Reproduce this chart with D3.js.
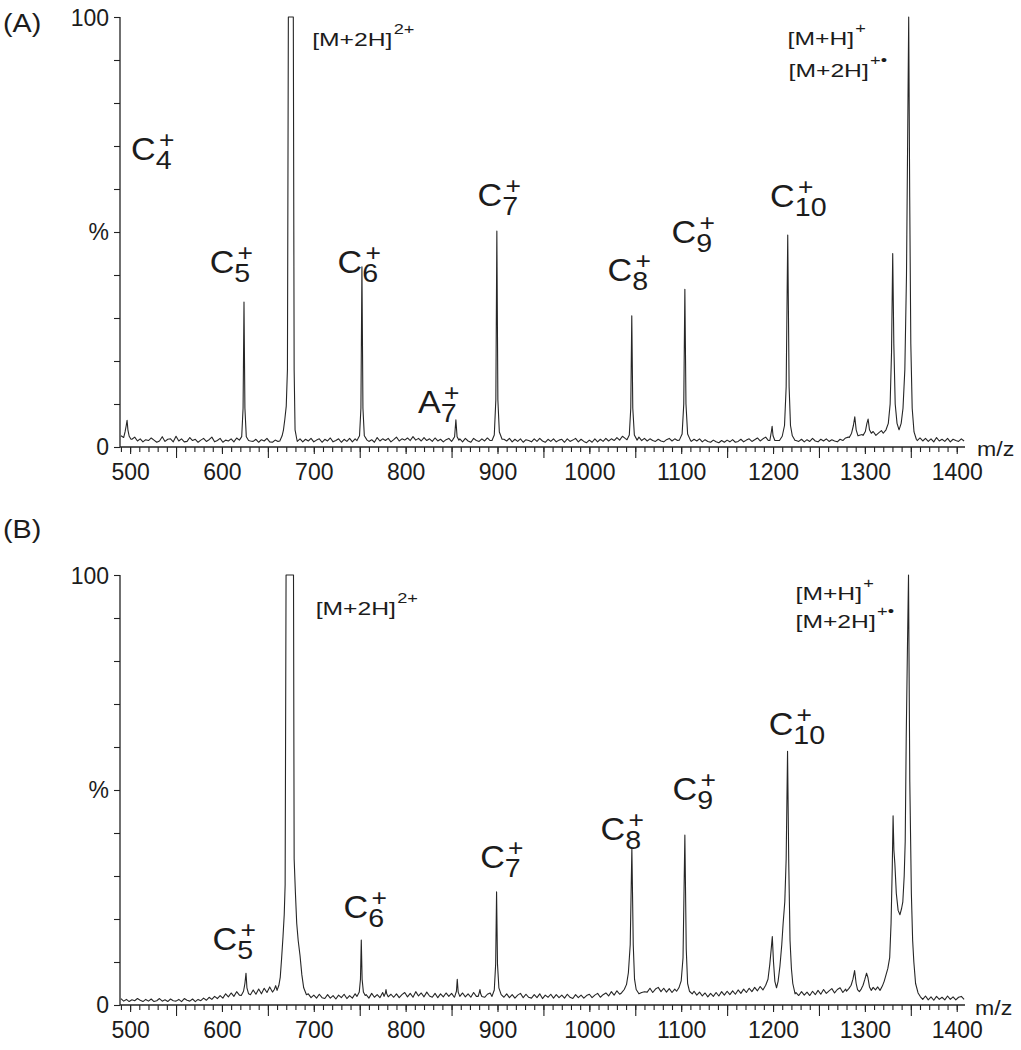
<!DOCTYPE html>
<html><head><meta charset="utf-8">
<script src="https://cdn.jsdelivr.net/npm/d3@7"></script>
<style>
body{margin:0;background:#fff}
text{font-family:"Liberation Sans",Arial,Helvetica,sans-serif;fill:#1c1c1c}
</style>
</head><body>
<svg id="c" width="1021" height="1050"></svg>
<script>
// ---------------- DATA ----------------
const mzStart = 490, mzStep = 3;              // baseline noise sampled every 3 m/z from 490
const xMajorTicks = [500,600,700,800,900,1000,1100,1200,1300,1400];
const xMidTicks = [550,650,750,850,950,1050,1150,1250,1350];
const yTickValues = [0,10,20,30,40,50,60,70,80,90,100];
const yTickLabels = [{v:100,t:"100"},{v:50,t:"%"},{v:0,t:"0"}];
const panelNames = ["(A)","(B)"];
const axisTitle = "m/z";

const noiseA = [
2.6,3.4,2.5,2.7,1.8,2.3,1.4,1.9,1.2,1.7,
1.5,2.1,1.6,1.1,1.4,2.4,1.3,1.8,1.9,1.2,
2.5,1.4,1.9,1.2,1.3,2.2,1.5,1.8,1.1,1.6,
2.0,1.3,1.7,2.3,1.2,1.5,2.0,1.1,1.6,1.4,
1.9,1.2,2.1,1.5,1.7,1.1,1.9,1.4,1.3,1.8,
1.1,1.7,1.4,2.0,1.2,1.1,1.6,1.3,2.0,2.2,
1.5,1.5,1.5,1.5,1.3,1.9,1.2,1.8,1.4,2.0,
1.2,1.6,1.9,1.1,1.8,1.4,2.1,1.2,1.5,1.9,
1.1,1.8,1.3,2.0,1.2,1.9,1.5,1.5,1.5,1.9,
1.3,1.7,1.1,2.2,1.4,1.9,1.5,2.0,1.2,1.7,
2.3,1.4,1.9,1.6,2.1,1.5,2.4,1.6,2.0,1.4,
2.2,1.5,1.9,1.3,2.1,1.4,1.8,1.2,1.7,2.0,
1.3,1.5,1.5,1.9,1.2,2.0,1.4,1.1,2.0,1.5,
1.3,1.9,1.4,2.1,1.5,1.5,1.8,2.3,1.3,1.8,
1.4,2.0,1.2,1.8,1.3,1.9,1.1,1.7,1.5,1.2,
1.9,1.3,2.0,1.4,1.1,1.8,1.3,1.9,1.2,1.6,
1.8,1.1,1.9,1.3,1.6,2.0,1.2,1.8,1.3,1.0,
1.6,1.1,1.9,1.2,1.8,1.3,2.0,1.4,1.9,1.5,
2.2,1.6,2.5,2.0,1.5,1.5,1.5,1.9,2.3,1.5,
2.0,1.4,1.9,1.5,1.3,1.8,1.4,1.2,1.7,2.0,
1.4,1.9,1.5,1.5,1.5,1.8,2.1,1.3,1.8,1.4,
1.9,1.2,1.7,1.3,1.1,1.6,1.2,1.0,1.5,1.1,
1.6,1.2,1.7,1.1,1.3,1.8,1.2,1.6,1.9,1.3,
1.7,2.1,1.4,1.9,2.3,1.5,2.5,1.5,1.5,1.6,
1.5,1.5,1.5,1.5,1.5,1.5,1.3,1.8,1.2,1.7,
1.3,2.0,1.4,1.2,1.8,1.4,1.9,1.3,1.7,1.4,
1.2,1.8,1.5,2.1,2.3,2.8,2.2,3.0,2.4,2.9,
3.1,3.4,2.5,3.6,2.7,3.3,3.8,2.8,3.5,3.0,
3,3,3,3,3,3,3,3,2.6,1.5,
2.1,1.4,2.0,1.3,1.9,1.2,2.2,1.4,1.8,1.3,
2.0,1.2,1.8,1.5,1.3,1.9,1.4];

const noiseB = [
1.5,0.9,1.3,0.8,1.2,1.0,1.5,1.1,0.8,1.3,
0.9,1.4,0.8,1.0,1.5,0.9,1.2,0.8,1.4,1.0,
0.9,1.3,0.8,1.5,1.1,0.9,1.4,0.8,1.3,1.0,
1.6,1.1,1.8,1.3,2.0,1.5,2.2,1.6,2.6,1.9,
2.8,2.0,3.1,2.3,2.5,1.9,3.0,2.4,3.5,2.5,
3.7,2.6,3.9,2.9,4.2,2.8,3.8,2.6,3.5,2.8,
3,3,3,3,3,3,2.5,1.8,2.6,1.7,
2.3,1.6,2.5,1.7,1.5,2.4,1.6,2.2,1.4,2.3,
1.7,2.5,1.5,2.2,1.6,2.6,2,2,2,2.4,
1.6,2.7,1.8,2.4,1.7,2.9,1.9,1.7,2.5,1.8,
2.6,1.7,2.4,2.9,1.9,2.7,1.8,3.1,2.1,2.8,
1.9,3.0,2.1,1.8,2.7,1.7,2.6,1.9,2.8,2.0,
2.7,1.8,2.5,1.7,2.8,1.9,2.6,1.8,2.9,2.0,
1.9,2.7,1.8,2.5,2.8,2.0,1.9,3.0,2.1,1.8,
2.6,1.7,2.4,1.6,2.3,2.7,1.7,2.5,1.8,1.6,
2.4,1.7,2.6,1.5,2.3,1.8,2.5,1.6,2.4,1.7,
2.3,1.6,2.5,1.8,1.5,2.4,1.7,2.3,1.6,2.2,
2.5,1.7,2.3,2.7,1.8,2.4,2.8,2.1,3.1,2.3,
3.3,2.5,3.5,2.7,3,3,3,3.4,3.7,2.9,
3.1,3.0,3.9,2.9,3.7,4.1,3.1,3.9,3.0,3.8,
2.9,3.7,3,3,3,3,3.5,2.5,3.2,2.3,
3.0,2.1,2.8,1.9,2.7,2.0,2.9,2.1,3.1,2.3,
3.2,2.4,3.3,2.5,3.5,2.7,3.7,2.9,3.9,3.1,
4.1,3.3,4.3,3,3,3,3,3,3,3,
3,3,3,3,3,2.9,2.2,3.1,2.3,3.0,
2.2,3.2,2.4,3.4,2.5,3.6,2.7,3.3,3.8,2.8,
3.6,4.0,2.9,3.7,4.1,3.1,3.9,3.0,3.8,4.1,
4.4,3.4,4.2,3.3,4.1,3.4,4.3,4.6,5.0,5.5,
3,3,3,3,3,3,3,3,3,2.3,
2.0,1.3,2.1,1.2,1.9,1.1,2.0,1.3,1.8,1.2,
2.1,1.3,1.9,1.2,1.8,2.0,1.3];

// peak profiles [m/z, intensity %]
const peaksA = [
 [[493,2.2],[494.5,3.5],[495.8,5],[496.7,6.2],[497.6,4],[499,2.5],[501,1.8]],
 [[619,1.6],[621.5,2.4],[623,9],[624,33.7],[625,9],[626.5,2.4],[629,1.5]],
 [[663,1.4],[665.5,2.6],[667,4],[668.5,6.5],[670,9.5],[671.3,18],[672.3,100],[677.7,100],[678.6,18],[679.6,4],[681.5,1.8]],
 [[747,1.5],[749.8,2.6],[751.3,9],[752.4,41.9],[753.5,9],[755,2.6],[758,1.6]],
 [[851,1.6],[853.3,2.4],[854.7,6.3],[856,2.4],[858,1.6]],
 [[894,1.5],[896.5,2.8],[898.2,11],[899.3,50.2],[900.4,11],[902,3.5],[905,1.8]],
 [[1041,1.7],[1043.5,2.8],[1045.1,9],[1046.2,30.5],[1047.3,9],[1049,2.8],[1052,1.6]],
 [[1098,1.6],[1101,3],[1102.8,10],[1104,36.7],[1105.2,10],[1107,3],[1110,1.6]],
 [[1196.5,1.5],[1198.2,3.6],[1199,4.8],[1200,2.6],[1202,1.5]],
 [[1207,1.5],[1210,2.5],[1212.5,5],[1214.3,14],[1216,49.3],[1217.5,14],[1219,5],[1221,2.6],[1224,1.5]],
 [[1283,2.2],[1285.5,3.2],[1287.5,5],[1289,7],[1290.5,4],[1292.5,2.6],[1295,2.8]],
 [[1298,2.7],[1300.5,3.6],[1302.2,5.5],[1303.5,6.5],[1305,4],[1307,3.2]],
 [[1320,3.2],[1323,4],[1325.5,5.5],[1327.5,10],[1329,22],[1330.3,45],[1331.5,24],[1333,10],[1335,5.5],[1337.2,4],[1339.5,5.5],[1341.5,9],[1343.5,18],[1345.3,40],[1346.7,75],[1347.7,100],[1348.8,58],[1350,24],[1351.5,9],[1353.5,3.5],[1356,1.8]]
];

const peaksB = [
 [[621,2.2],[623.5,3.2],[625,5],[626.2,7.4],[627.2,4],[629,2.6]],
 [[655,3],[657,3.6],[658.5,4.5],[660,3.4],[662,4.6],[663.5,6.5],[665,11],[666.5,16],[667.8,21],[668.8,28],[669.8,100],[677.9,100],[678.6,34],[680,26],[681.4,19],[683,15],[685,11.5],[687,7],[689,4],[692,2.4]],
 [[747,2],[749.5,3],[750.8,6],[751.7,15.1],[752.6,6],[754,3],[756,2.2]],
 [[776.5,2],[778,2.8],[778.6,3.6],[779.4,2.6],[781,1.9]],
 [[853.5,2],[855.3,3.2],[856.2,6],[857.2,3],[859,2]],
 [[879,2],[880.3,3],[880.9,3.6],[881.7,2.6],[883,2]],
 [[894,2],[896.5,3.5],[898,9.5],[899,26.3],[900,9.5],[901.5,4],[904,2.4]],
 [[1035,2.8],[1038,3.6],[1040.5,4.8],[1042.5,7.5],[1044.5,14],[1046.3,36.5],[1047.8,14],[1049.2,6],[1051,3.6],[1054,2.6]],
 [[1095,3.2],[1097.5,4],[1100,5.6],[1102,11],[1104,39.5],[1105.5,13],[1107,5],[1109,3.2],[1112,2.6]],
 [[1189,3.5],[1192,4.6],[1194.5,6],[1196.5,9.5],[1198,13],[1199.2,15.9],[1200.5,10],[1202,5.5],[1203.8,4],[1205.5,5.5],[1207.5,9],[1209.5,14],[1211,19],[1212.8,24],[1214.3,34],[1215.8,59],[1217.1,33],[1218.5,15],[1220,8.5],[1221.5,5],[1224,2.6]],
 [[1280,3.2],[1282.5,3.8],[1285,4.6],[1287,6],[1288.8,8],[1290.5,5],[1292,3.6],[1294,3.1],[1296,3.7],[1298,4.6],[1300,6],[1301.8,7.4],[1303.3,6.4],[1305,4.2],[1307,3.4],[1309,4.1],[1311.5,3.5],[1314,4.2],[1316.5,3.4],[1319,4.4],[1321,5.5],[1323,7],[1325,8.5],[1327,11],[1328.5,19],[1329.8,32],[1330.7,44],[1331.6,36],[1332.6,33],[1334.2,26],[1336.2,22],[1338.2,21],[1340,22.5],[1341.3,24],[1342.8,30],[1343.9,38],[1345,62],[1346.4,84],[1347.5,100],[1348.2,76],[1348.9,52],[1350.6,26],[1352,15],[1353.3,10],[1355.2,5],[1357.9,2.8],[1360.5,1.9]]
];

// annotations anchored in data coordinates (m/z, %)
const annotA = [
 {main:"C", sub:"4", sup:"+", mz:501.1, pct:66.7},
 {main:"C", sub:"5", sup:"+", mz:586.6, pct:40.5},
 {main:"[M+2H]", sup:"2+", mz:698.2, pct:93.3},
 {main:"C", sub:"6", sup:"+", mz:725.9, pct:40.5},
 {main:"A", sub:"7", sup:"+", mz:813.5, pct:7.9},
 {main:"C", sub:"7", sup:"+", mz:878.3, pct:56.0},
 {main:"C", sub:"8", sup:"+", mz:1019.9, pct:38.6},
 {main:"C", sub:"9", sup:"+", mz:1089.5, pct:47.4},
 {main:"C", sub:"10", sup:"+", mz:1196.8, pct:55.7},
 {main:"[M+H]", sup:"+", mz:1215.8, pct:93.4},
 {main:"[M+2H]", sup:"+•", mz:1216.9, pct:86.0}
];
const annotB = [
 {main:"C", sub:"5", sup:"+", mz:589.8, pct:12.9},
 {main:"[M+2H]", sup:"2+", mz:702.0, pct:90.8},
 {main:"C", sub:"6", sup:"+", mz:732.4, pct:20.2},
 {main:"C", sub:"7", sup:"+", mz:881.1, pct:31.9},
 {main:"C", sub:"8", sup:"+", mz:1012.2, pct:38.4},
 {main:"C", sub:"9", sup:"+", mz:1090.6, pct:47.7},
 {main:"C", sub:"10", sup:"+", mz:1195.2, pct:62.9},
 {main:"[M+H]", sup:"+", mz:1224.5, pct:94.2},
 {main:"[M+2H]", sup:"+•", mz:1224.5, pct:87.7}
];

// ---------------- LAYOUT ----------------
const svg = d3.select("#c");
const x = d3.scaleLinear().domain([489, 1409]).range([120, 965]);
const panels = [
 {name:panelNames[0], noise:noiseA, peaks:peaksA, annot:annotA, top:17, base:447, nameY:32, mzX:977, mzY:456},
 {name:panelNames[1], noise:noiseB, peaks:peaksB, annot:annotB, top:575, base:1005, nameY:537.5, mzX:975, mzY:1015}
];
const minorTicks = d3.range(490, 1401, 10);
const ink = "#222";

function buildSpectrum(noise, peaks){
  const pts = [];
  noise.forEach((v,i)=>{
    const m = mzStart + i*mzStep;
    if (!peaks.some(p => m >= p[0][0] && m <= p[p.length-1][0])) pts.push([m, v]);
  });
  peaks.forEach(p => p.forEach(q => pts.push(q)));
  pts.sort((a,b)=>a[0]-b[0]);
  return pts;
}

panels.forEach(p=>{
  const y = d3.scaleLinear().domain([0,100]).range([p.base, p.top]);
  const g = svg.append("g").style("color", ink);

  // y axis
  g.append("g").attr("transform","translate(120,0)")
    .call(d3.axisLeft(y).tickValues(yTickValues).tickSize(6).tickFormat(""))
    .call(a=>a.select(".domain").remove())
    .selectAll("line").attr("stroke-width",1.1);
  g.append("line").attr("x1",120).attr("x2",120).attr("y1",y(100)).attr("y2",y(0))
    .attr("stroke",ink).attr("stroke-width",1.3);
  yTickLabels.forEach(t=>{
    g.append("text").attr("x",109).attr("y",y(t.v)+ (t.v===100?9:8))
      .attr("text-anchor","end").attr("font-size",23).text(t.t);
  });

  // x axis
  const xa = (vals,size)=> g.append("g").attr("transform",`translate(0,${p.base})`)
      .call(d3.axisBottom(x).tickValues(vals).tickSize(size).tickFormat(""))
      .call(a=>a.select(".domain").remove())
      .call(a=>a.selectAll("line").attr("stroke-width",1.1));
  xa(minorTicks,5);
  xa(xMidTicks,11);
  const maj = g.append("g").attr("transform",`translate(0,${p.base})`)
      .call(d3.axisBottom(x).tickValues(xMajorTicks).tickSize(7).tickFormat(d3.format("d")))
      .call(a=>a.select(".domain").remove());
  maj.selectAll("line").attr("stroke-width",1.1);
  maj.selectAll("text").attr("y",33).attr("dy",null).attr("font-size",23)
     .style("font-family",'"Liberation Sans",Arial,sans-serif').attr("fill","#1c1c1c");
  g.append("line").attr("x1",120).attr("x2",965).attr("y1",p.base).attr("y2",p.base)
    .attr("stroke",ink).attr("stroke-width",1.3);

  g.append("text").attr("transform",`translate(${p.mzX},${p.mzY}) scale(1.1,1)`)
    .attr("font-size",21).text(axisTitle);
  g.append("text").attr("transform",`translate(3,${p.nameY}) scale(1.15,1)`)
    .attr("font-size",25).text(p.name);

  // spectrum
  const pts = buildSpectrum(p.noise, p.peaks);
  g.append("path").datum(pts)
    .attr("d", d3.line().x(d=>x(d[0])).y(d=>y(d[1])))
    .attr("fill","none").attr("stroke","#262626").attr("stroke-width",1.1)
    .attr("stroke-linejoin","round");

  // annotations: one text element per label, sub/superscripts as tspans
  p.annot.forEach(a=>{
    const ion = a.main.startsWith("[");
    const grp = g.append("g")
      .attr("transform",`translate(${x(a.mz)},${y(a.pct)}) scale(${ion?1.3:1.1},1)`);
    const t = grp.append("text");
    t.append("tspan").attr("x",0).attr("y",0).attr("font-size", ion?19:31).text(a.main);
    const w = t.node().getComputedTextLength();
    if (a.sub) t.append("tspan").attr("x", w).attr("y", 9).attr("font-size", 26).text(a.sub);
    if (a.sup) {
      if (ion) t.append("tspan").attr("x", w+1).attr("y", -12).attr("font-size", 14).text(a.sup);
      else t.append("tspan").attr("x", w+3).attr("y", -12).attr("font-size", 24).text(a.sup);
    }
  });
});
</script>
</body></html>
